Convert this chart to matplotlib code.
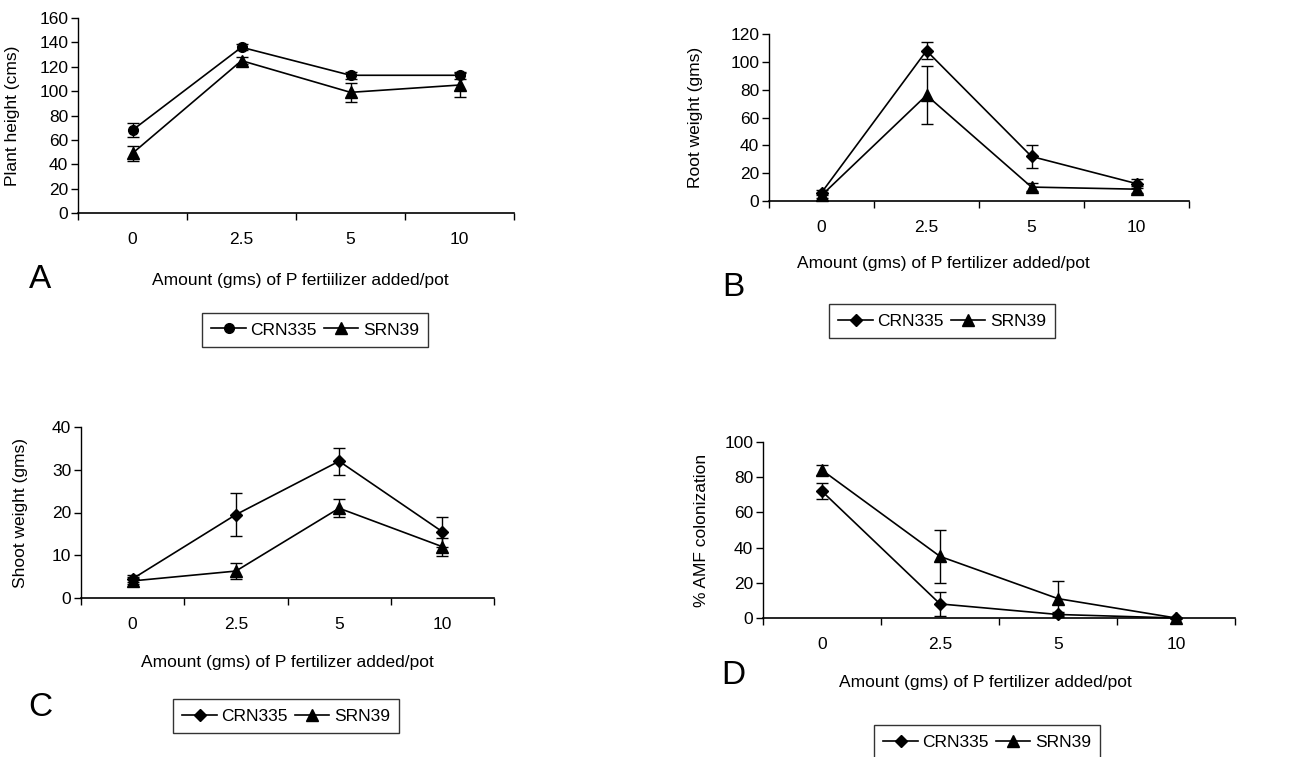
import matplotlib
matplotlib.use('Agg')
import matplotlib.pyplot as plt
from matplotlib.lines import Line2D
import numpy as np

plt.rcParams['font.family'] = ['Liberation Sans', 'DejaVu Sans']
FS = 12.5

categories = ['0', '2.5', '5', '10']

# A - plant height
crn_height = [68, 136, 113, 113]
crn_height_err = [6, 2.5, 3, 3]
srn_height = [49, 125, 99, 105]
srn_height_err = [6, 3, 8, 10]

# B - root weight
crn_root = [6, 108, 32, 12.5]
crn_root_err = [2, 6, 8, 3.5]
srn_root = [4, 76, 10, 8.5]
srn_root_err = [2, 21, 3, 2.5]

# C - shoot weight
crn_shoot = [4.5, 19.5, 32, 15.5]
crn_shoot_err = [0.8, 5, 3.2, 3.5]
srn_shoot = [4, 6.3, 21, 12]
srn_shoot_err = [0.8, 1.8, 2.1, 2.1]

# D - AMF colonization
crn_amf = [72, 8, 2, 0]
crn_amf_err = [4.5, 7, 1.5, 0]
srn_amf = [84, 35, 11, 0]
srn_amf_err = [3, 15, 10, 0]

W, H = 1291, 757
fig = plt.figure(figsize=(W / 100, H / 100), dpi=100)


def px_axes(left, right, top, bottom):
    return fig.add_axes([left / W, 1 - bottom / H, (right - left) / W, (bottom - top) / H])


def panel(ax, crn, crn_err, srn, srn_err, crn_marker, ymax, ystep, ylabel, ylab_x):
    x = np.arange(len(categories))
    ms = {'o': 7, 'D': 6.5}[crn_marker]
    for vals, errs, mk, size in [(crn, crn_err, crn_marker, ms), (srn, srn_err, '^', 8)]:
        ax.errorbar(x, vals, yerr=errs, fmt='none', ecolor='black', elinewidth=1,
                    capsize=4.5, capthick=1, clip_on=False)
        ax.plot(x, vals, color='black', marker=mk, markersize=size, lw=1.2, clip_on=False)
    ax.set_xlim(-0.5, len(categories) - 0.5)
    ax.set_ylim(0, ymax)
    ax.set_yticks(np.arange(0, ymax + 1, ystep))
    ax.set_xticks(np.arange(-0.5, len(categories), 1))
    ax.set_xticklabels([])
    ax.set_xticks(x, minor=True)
    ax.set_xticklabels(categories, minor=True)
    ax.tick_params(axis='x', which='minor', length=0, pad=14, labelsize=FS)
    ax.tick_params(axis='x', which='major', length=5, width=1, direction='out')
    ax.tick_params(axis='y', length=5, width=1, direction='out', labelsize=FS, pad=2)
    ax.spines['top'].set_visible(False)
    ax.spines['right'].set_visible(False)
    ax.spines['left'].set_linewidth(1)
    ax.spines['bottom'].set_linewidth(1.2)
    ax.set_ylabel(ylabel, fontsize=FS)
    pos = ax.get_position()
    ax.yaxis.set_label_coords(ylab_x / W, pos.y0 + pos.height / 2, transform=fig.transFigure)
    return ax


def legend(ax, crn_marker, cx, cy):
    handles = [Line2D([], [], color='black', lw=1.2, marker=crn_marker,
                      markersize={'o': 7, 'D': 6.5}[crn_marker]),
               Line2D([], [], color='black', lw=1.2, marker='^', markersize=8)]
    leg = ax.legend(handles, ['CRN335', 'SRN39'], loc='center',
                    bbox_to_anchor=(cx / W, 1 - cy / H),
                    bbox_transform=fig.transFigure, ncol=2, frameon=True,
                    fancybox=False, edgecolor='black', handlelength=2.0,
                    handletextpad=0.25, columnspacing=0.4, borderpad=0.55,
                    fontsize=FS)
    leg.get_frame().set_linewidth(1)


axA = px_axes(78, 514, 18, 213)
panel(axA, crn_height, crn_height_err, srn_height, srn_height_err, 'o', 160, 20,
      'Plant height (cms)', 20)
legend(axA, 'o', 315, 330)
fig.text(300 / W, 1 - 281 / H, 'Amount (gms) of P fertiilizer added/pot', ha='center', va='center', fontsize=FS)
fig.text(40 / W, 1 - 279 / H, 'A', ha='center', va='center', fontsize=24)

axB = px_axes(769, 1189, 34, 201)
panel(axB, crn_root, crn_root_err, srn_root, srn_root_err, 'D', 120, 20,
      'Root weight (gms)', 703)
legend(axB, 'D', 942, 321)
fig.text(943 / W, 1 - 263 / H, 'Amount (gms) of P fertilizer added/pot', ha='center', va='center', fontsize=FS)
fig.text(733 / W, 1 - 287 / H, 'B', ha='center', va='center', fontsize=24)

axC = px_axes(81, 494, 427, 598)
panel(axC, crn_shoot, crn_shoot_err, srn_shoot, srn_shoot_err, 'D', 40, 10,
      'Shoot weight (gms)', 28)
legend(axC, 'D', 286, 716)
fig.text(287 / W, 1 - 662 / H, 'Amount (gms) of P fertilizer added/pot', ha='center', va='center', fontsize=FS)
fig.text(40 / W, 1 - 708 / H, 'C', ha='center', va='center', fontsize=24)

axD = px_axes(763, 1235, 442, 618)
panel(axD, crn_amf, crn_amf_err, srn_amf, srn_amf_err, 'D', 100, 20,
      '% AMF colonization', 709)
legend(axD, 'D', 987, 742)
fig.text(985 / W, 1 - 682 / H, 'Amount (gms) of P fertilizer added/pot', ha='center', va='center', fontsize=FS)
fig.text(733 / W, 1 - 676 / H, 'D', ha='center', va='center', fontsize=24)

fig.savefig('out.png', dpi=100)
